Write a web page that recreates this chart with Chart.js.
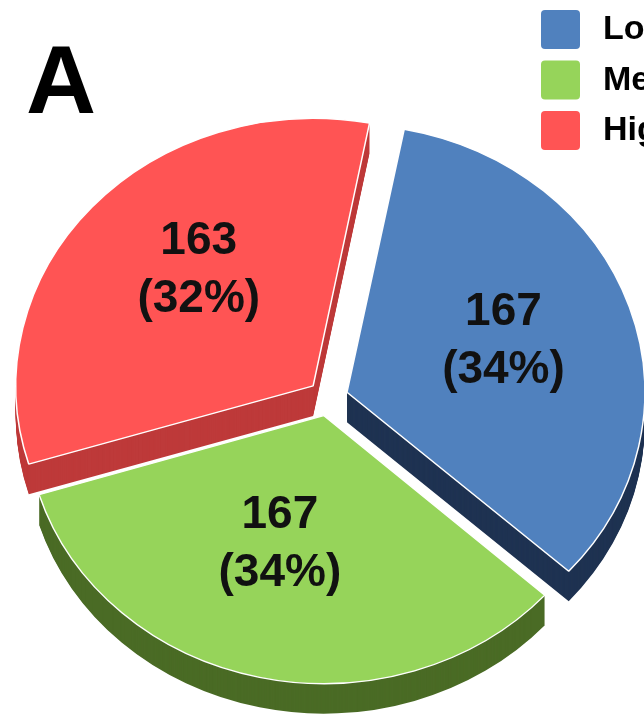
<!DOCTYPE html>
<html>
<head>
<meta charset="utf-8">
<script src="https://cdn.jsdelivr.net/npm/chart.js@4.4.1/dist/chart.umd.min.js"></script>
<style>
  html, body { margin: 0; padding: 0; background: #fff; overflow: hidden; }
  #wrap { position: relative; width: 644px; height: 719px; }
</style>
</head>
<body>
<div id="wrap"><canvas id="pieChart"></canvas></div>
<script>
  // groups, counts and the percentages printed on each slice
  const groups = ['Low', 'Medium', 'High'];
  const counts = [167, 167, 163];
  const percents = ['34%', '34%', '32%'];

  const topColors = ['#5081BE', '#96D45A', '#FF5454'];
  const sideColors = ['#1F3352', '#4A6B25', '#BE3A3A'];

  const TILT = 0.9;     // vertical squash of the pie disc
  const DEPTH = 30;     // thickness of the slices in px
  const EXPLODE = 80;   // arc offset option (chart.js moves arcs by offset / 4)

  function tilt(ctx, cx, cy) {
    ctx.translate(cx, cy);
    ctx.scale(1, TILT);
    ctx.translate(-cx, -cy);
  }

  // draws the extruded sides, then tilts the real arcs drawn on top
  const pie3d = {
    id: 'pie3d',
    beforeDatasetsDraw(chart) {
      const ctx = chart.ctx;
      const arcs = chart.getDatasetMeta(0).data;
      const cx = arcs[0].x, cy = arcs[0].y;
      for (let d = DEPTH; d >= 1; d--) {
        arcs.forEach((arc, i) => {
          const saved = arc.options;
          arc.options = Object.assign({}, saved, {
            backgroundColor: sideColors[i],
            borderColor: sideColors[i],
            borderWidth: 0
          });
          ctx.save();
          ctx.translate(0, d);
          tilt(ctx, cx, cy);
          arc.draw(ctx);
          ctx.restore();
          arc.options = saved;
        });
      }
      ctx.save();
      tilt(ctx, cx, cy);
    },
    afterDatasetsDraw(chart) {
      const ctx = chart.ctx;
      ctx.restore();
      const arcs = chart.getDatasetMeta(0).data;
      const cy = arcs[0].y;
      ctx.save();
      ctx.fillStyle = '#111';
      ctx.font = 'bold 46px "Liberation Sans", Arial, sans-serif';
      ctx.textAlign = 'center';
      ctx.textBaseline = 'middle';
      arcs.forEach((arc, i) => {
        const mid = (arc.startAngle + arc.endAngle) / 2 + 0.05;
        const r = arc.options.offset / 4 + arc.outerRadius * 0.55;
        const x = arc.x + Math.cos(mid) * r;
        const y = cy + TILT * (arc.y + Math.sin(mid) * r - cy) - 12;
        ctx.fillText(String(counts[i]), x, y - 29);
        ctx.fillText('(' + percents[i] + ')', x, y + 29);
      });
      ctx.restore();
    },
    afterDraw(chart) {
      const ctx = chart.ctx;
      ctx.save();
      // panel letter
      ctx.fillStyle = '#000';
      ctx.font = 'bold 97px "Liberation Sans", Arial, sans-serif';
      ctx.textBaseline = 'alphabetic';
      ctx.fillText('A', 26, 113);
      // legend, runs off the right edge
      ctx.font = 'bold 34px "Liberation Sans", Arial, sans-serif';
      ctx.textBaseline = 'middle';
      groups.forEach((g, i) => {
        const y = 10 + i * 50.5;
        ctx.fillStyle = topColors[i];
        ctx.beginPath();
        ctx.roundRect(541, y, 39, 39, 4);
        ctx.fill();
        ctx.fillStyle = '#000';
        ctx.fillText(g, 603, y + 20);
      });
      ctx.restore();
    }
  };

  new Chart(document.getElementById('pieChart'), {
    type: 'pie',
    data: {
      labels: groups,
      datasets: [{
        data: counts,
        backgroundColor: topColors,
        borderColor: '#fff',
        borderWidth: 1.5,
        offset: EXPLODE,
        clip: false
      }]
    },
    options: {
      responsive: true,
      maintainAspectRatio: false,
      animation: false,
      radius: 295,
      rotation: 11,
      layout: { padding: { left: 12, right: 0, top: 77, bottom: 0 } },
      plugins: {
        legend: { display: false },
        tooltip: { enabled: false }
      },
      events: []
    },
    plugins: [pie3d]
  });
</script>
</body>
</html>
